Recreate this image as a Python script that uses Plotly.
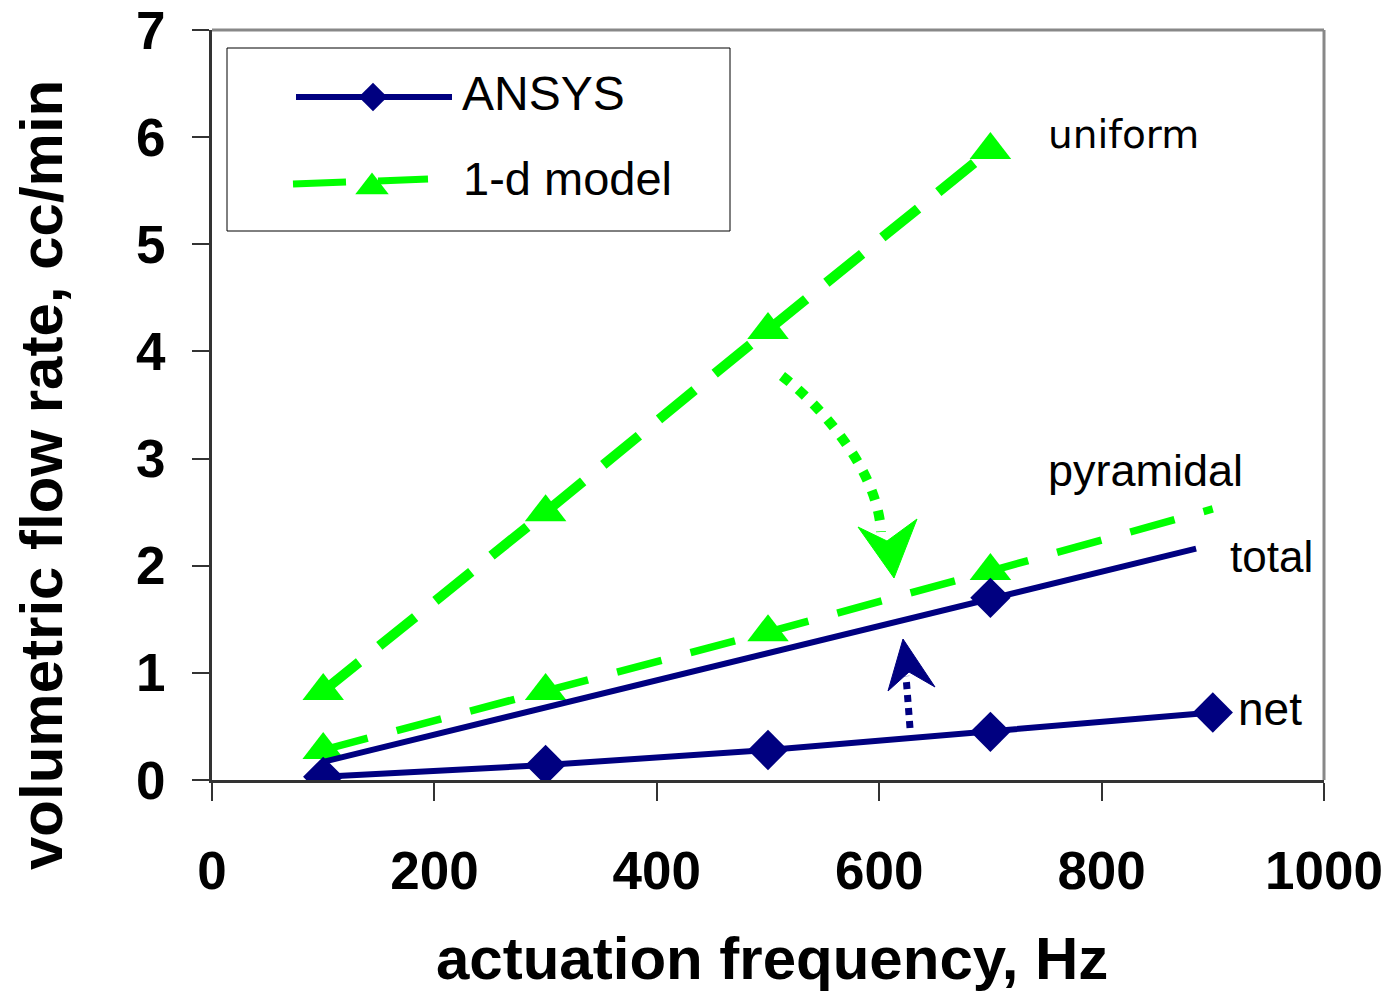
import plotly.graph_objects as go

# ---- data ----
freq = [100, 300, 500, 700, 900]
ansys_net = [0.03, 0.14, 0.28, 0.45, 0.63]
total_x = [100, 700, 885]
ansys_total = [0.17, 1.70, 2.16]
total_marker_x = [700]
total_marker_y = [1.70]
uniform_x = [100, 300, 500, 700]
uniform_y = [0.83, 2.50, 4.20, 5.88]
pyramidal_y = [0.28, 0.83, 1.38, 1.95, 2.53]
pyramidal_marker = [True, True, True, True, False]

x_ticks = [0, 200, 400, 600, 800, 1000]
y_ticks = [0, 1, 2, 3, 4, 5, 6, 7]

NAVY = "#000080"
GREEN = "#00FF00"
FONT = "Liberation Sans"

W, H = 1389, 995
L, R, T, B = 212, 1324, 30, 780   # plot area in page pixels

fig = go.Figure()

# 1-d model uniform
fig.add_trace(go.Scatter(x=uniform_x, y=uniform_y, mode="lines+markers",
                         line=dict(color=GREEN, width=10, dash="46px,26px"),
                         marker=dict(symbol="triangle-up", size=36, color=GREEN),
                         showlegend=False))
# 1-d model pyramidal
fig.add_trace(go.Scatter(x=freq, y=pyramidal_y, mode="lines",
                         line=dict(color=GREEN, width=7.5, dash="46px,30px"),
                         showlegend=False))
fig.add_trace(go.Scatter(x=[f for f, m in zip(freq, pyramidal_marker) if m],
                         y=[v for v, m in zip(pyramidal_y, pyramidal_marker) if m],
                         mode="markers",
                         marker=dict(symbol="triangle-up", size=36, color=GREEN),
                         showlegend=False))
# ANSYS total
fig.add_trace(go.Scatter(x=total_x, y=ansys_total, mode="lines",
                         line=dict(color=NAVY, width=6), showlegend=False))
fig.add_trace(go.Scatter(x=total_marker_x, y=total_marker_y, mode="markers",
                         marker=dict(symbol="diamond", size=31, color=NAVY),
                         showlegend=False))
# ANSYS net
fig.add_trace(go.Scatter(x=freq, y=ansys_net, mode="lines+markers",
                         line=dict(color=NAVY, width=6),
                         marker=dict(symbol="diamond", size=31, color=NAVY),
                         showlegend=False))

# legend markers on pixel overlay axes
fig.add_trace(go.Scatter(x=[373], y=[97], mode="markers", xaxis="x2", yaxis="y2",
                         marker=dict(symbol="diamond", size=22, color=NAVY),
                         showlegend=False, hoverinfo="skip"))
fig.add_trace(go.Scatter(x=[372], y=[187], mode="markers", xaxis="x2", yaxis="y2",
                         marker=dict(symbol="triangle-up", size=29, color=GREEN),
                         showlegend=False, hoverinfo="skip"))

shapes = []
px = dict(xref="x2", yref="y2")
# top and right frame (gray)
shapes.append(dict(type="line", xref="paper", yref="paper", x0=0, x1=1, y0=1, y1=1,
                   line=dict(color="#888888", width=3)))
shapes.append(dict(type="line", xref="paper", yref="paper", x0=1, x1=1, y0=0, y1=1,
                   line=dict(color="#888888", width=3)))
# legend box
shapes.append(dict(type="rect", x0=227, x1=730, y0=48, y1=231,
                   line=dict(color="black", width=1), fillcolor="white", layer="below", **px))
# legend lines
shapes.append(dict(type="line", x0=296, x1=452, y0=97, y1=97,
                   line=dict(color=NAVY, width=6), **px))
shapes.append(dict(type="line", x0=293, x1=346, y0=184, y1=182,
                   line=dict(color=GREEN, width=7), **px))
shapes.append(dict(type="line", x0=378, x1=428, y0=181, y1=179,
                   line=dict(color=GREEN, width=7), **px))
# green curved dotted arrow
shapes.append(dict(type="path", path="M 782,376 C 820,405 878,470 881,532",
                   line=dict(color=GREEN, width=10, dash="10px,11px"), **px))
shapes.append(dict(type="path", path="M 858,527 L 894,578 L 917,519 L 887,541 Z",
                   fillcolor=GREEN, line=dict(color=GREEN, width=1), **px))
# navy dotted arrow
shapes.append(dict(type="path", path="M 910,728 L 906,676",
                   line=dict(color=NAVY, width=7, dash="7px,6px"), **px))
shapes.append(dict(type="path", path="M 903,639 L 888,691 L 909,672 L 935,687 Z",
                   fillcolor=NAVY, line=dict(color=NAVY, width=1), **px))

ann = []
def label(text, x, y, size=38, family=FONT, **kw):
    ann.append(dict(text=text, x=x, y=y, xref="x2", yref="y2", showarrow=False,
                    font=dict(family=family, size=size, color="black"), **kw))

label("ANSYS", 460, 93, size=48, xanchor="left", yanchor="middle")
label("1-d model", 461, 178, size=47, xanchor="left", yanchor="middle")
label("uniform", 1046, 134, size=39, family="DejaVu Sans", xanchor="left", yanchor="middle")
label("pyramidal", 1046, 470, size=45, xanchor="left", yanchor="middle")
label("total", 1228, 556, size=44, xanchor="left", yanchor="middle")
label("net", 1236, 709, size=46, xanchor="left", yanchor="middle")

# axis titles
ann.append(dict(text="<b>actuation frequency, Hz</b>", xref="paper", yref="paper",
                x=(772 - L) / (R - L), y=(B - 959) / (B - T), showarrow=False,
                xanchor="center", yanchor="middle",
                font=dict(family=FONT, size=60, color="black")))
ann.append(dict(text="<b>volumetric flow rate, cc/min</b>", xref="paper", yref="paper",
                x=(42 - L) / (R - L), y=(B - 475) / (B - T), showarrow=False,
                xanchor="center", yanchor="middle", textangle=-90,
                font=dict(family=FONT, size=60, color="black")))

fig.update_layout(
    template="none",
    width=W, height=H,
    margin=dict(l=L, r=W - R, t=T, b=H - B, pad=0, autoexpand=False),
    paper_bgcolor="white", plot_bgcolor="white",
    showlegend=False,
    xaxis=dict(range=[0, 1000], tickvals=x_ticks, ticktext=[str(v) for v in x_ticks],
               automargin=False,
               showgrid=False, zeroline=False, showline=True, linecolor="#333333",
               linewidth=3, ticks="outside", ticklen=18, tickwidth=1.5, tickcolor="#333333",
               tickfont=dict(family=FONT, size=53, color="black", weight="bold"),
               ticklabelstandoff=24),
    yaxis=dict(range=[0, 7], tickvals=y_ticks, ticktext=[str(v) for v in y_ticks],
               automargin=False,
               showgrid=False, zeroline=False, showline=True, linecolor="#333333",
               linewidth=3, ticks="outside", ticklen=17, tickwidth=1.5, tickcolor="#333333",
               tickfont=dict(family=FONT, size=53, color="black", weight="bold"),
               ticklabelstandoff=16),
    xaxis2=dict(range=[L, R], overlaying="x", visible=False, fixedrange=True, automargin=False),
    yaxis2=dict(range=[B, T], overlaying="y", visible=False, fixedrange=True, automargin=False),
    shapes=shapes, annotations=ann,
)

fig.write_html(
    "out.html",
    config={"displayModeBar": False},
    post_script="document.body.style.margin='0';"
                "document.documentElement.style.overflow='hidden';"
                "document.body.style.overflow='hidden';",
)
